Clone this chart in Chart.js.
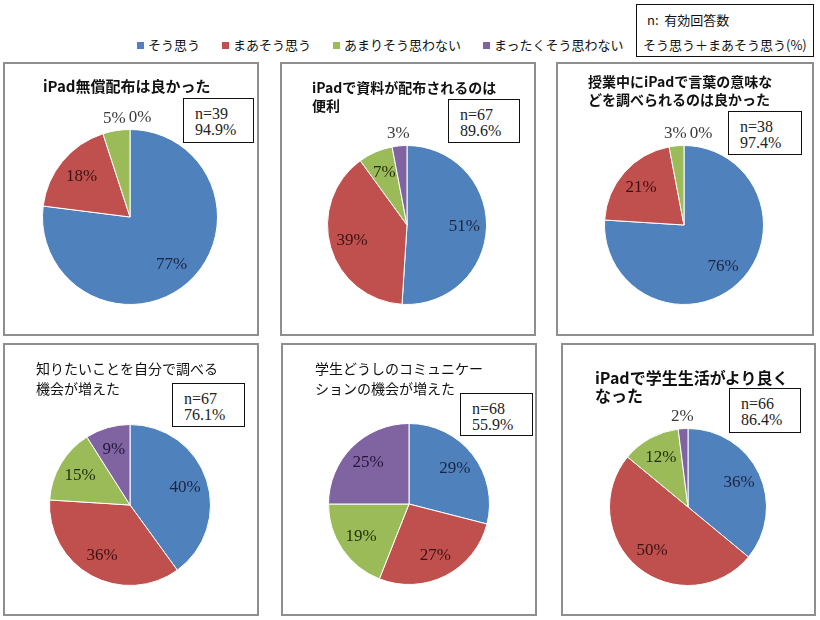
<!DOCTYPE html>
<html>
<head>
<meta charset="utf-8">
<script src="https://cdn.jsdelivr.net/npm/chart.js@4.4.0/dist/chart.umd.min.js"></script>
<style>
    body {
        margin: 0;
        width: 820px;
        height: 620px;
        background: #fff;
        position: relative;
        overflow: hidden;
        font-family: "Noto Sans CJK JP", sans-serif;
    }
    .panel {
        position: absolute;
        border: 2px solid #8e8e8e;
        box-sizing: border-box;
    }
    .chart-holder {
        position: absolute;
    }
    .title {
        position: absolute;
        white-space: pre;
        color: #111;
    }
    .nbox {
        position: absolute;
        box-sizing: border-box;
        border: 1px solid #111;
        background: #fff;
        font-family: "Liberation Serif", serif;
        font-size: 16px;
        line-height: 16px;
        padding: 7px 0 0 11px;
        color: #222;
    }
    #legend {
        position: absolute;
        left: 137px;
        top: 36px;
        display: flex;
        gap: 22px;
        font-size: 13px;
        line-height: 18px;
        color: #111;
    }
    #legend span.sw {
        display: inline-block;
        width: 7px;
        height: 7px;
        margin-right: 4px;
        vertical-align: 1px;
    }
    #note {
        position: absolute;
        left: 636px;
        top: 4px;
        width: 178px;
        height: 53px;
        box-sizing: border-box;
        border: 1px solid #111;
        font-size: 13px;
        color: #111;
    }
</style>
</head>
<body>
<div id="legend"></div>
<div id="note">
    <div style="position:absolute;left:10px;top:5px">n:&nbsp; 有効回答数</div>
    <div style="position:absolute;left:6px;top:30px">そう思う＋まあそう思う(%)</div>
</div>

<script>
const categories = ["そう思う", "まあそう思う", "あまりそう思わない", "まったくそう思わない"];
const colors = ["#4F81BD", "#C0504D", "#9BBB59", "#8064A2"];
const labelColors = ["#1b2440", "#3b1111", "#1f2b0f", "#24163a"];

const titles = [
    "iPad無償配布は良かった",
    "iPadで資料が配布されるのは\n便利",
    "授業中にiPadで言葉の意味な\nどを調べられるのは良かった",
    "知りたいことを自分で調べる\n機会が増えた",
    "学生どうしのコミュニケー\nションの機会が増えた",
    "iPadで学生生活がより良く\nなった",
];
const nValues = [39, 67, 38, 67, 68, 66];
const agreeRates = ["94.9", "89.6", "97.4", "76.1", "55.9", "86.4"];

const freeDistribution = [77, 18, 5, 0];
const materialsHandout = [51, 39, 7, 3];
const lookupInClass = [76, 21, 3, 0];
const selfStudy = [40, 36, 15, 9];
const communication = [29, 27, 19, 25];
const studentLife = [36, 50, 12, 2];
const allSeries = [freeDistribution, materialsHandout, lookupInClass, selfStudy, communication, studentLife];

// 見た目の配置 (パネル枠, 円の中心と半径, タイトル, n の枠)
const layout = [
    { box: [3, 62, 256, 274], pie: [130, 217, 88], title: [43, 77, 15, 18, "bold"], nbox: [183, 98, 71, 45] },
    { box: [280, 62, 256, 274], pie: [407, 225, 80], title: [312, 78, 14, 18, "bold"], nbox: [448, 99, 72, 44] },
    { box: [556, 62, 258, 274], pie: [684, 225, 80], title: [588, 72, 14, 18, "bold"], nbox: [728, 111, 74, 44] },
    { box: [3, 343, 256, 273], pie: [130, 505, 81], title: [36, 358, 14, 20, "normal"], nbox: [172, 383, 73, 44] },
    { box: [281, 343, 256, 273], pie: [409, 504, 81], title: [315, 358, 14, 20, "normal"], nbox: [460, 393, 73, 43] },
    { box: [561, 343, 255, 273], pie: [688, 507, 79], title: [595, 368, 16, 18, "bold"], nbox: [729, 388, 72, 45] },
];

const legend = document.getElementById("legend");
categories.forEach((name, i) => {
    const item = document.createElement("div");
    item.innerHTML = `<span class="sw" style="background:${colors[i]}"></span>${name}`;
    legend.appendChild(item);
});

// 小さい割合は円の外側に、それ以外は内側にラベルを描く
const sliceLabels = {
    id: "sliceLabels",
    afterDatasetsDraw(chart) {
        const { ctx } = chart;
        const meta = chart.getDatasetMeta(0);
        const values = chart.data.datasets[0].data;
        ctx.save();
        ctx.font = '17px "Liberation Serif", serif';
        ctx.textAlign = "center";
        ctx.textBaseline = "middle";
        let lastRight = -Infinity;
        meta.data.forEach((arc, i) => {
            const { x, y, startAngle, endAngle, outerRadius } = arc.getProps(
                ["x", "y", "startAngle", "endAngle", "outerRadius"],
                true
            );
            const mid = (startAngle + endAngle) / 2;
            const text = values[i] + "%";
            const w = ctx.measureText(text).width;
            let lx, ly;
            if (values[i] > 5) {
                lx = x + Math.cos(mid) * outerRadius * 0.72;
                ly = y + Math.sin(mid) * outerRadius * 0.72;
                ctx.fillStyle = labelColors[i];
            } else {
                lx = x + Math.cos(mid) * (outerRadius + 12);
                ly = y + Math.sin(mid) * (outerRadius + 12);
                if (lx - w / 2 < lastRight + 3) {
                    lx = lastRight + 3 + w / 2;
                }
                lastRight = lx + w / 2;
                ctx.fillStyle = "#3a3a3a";
            }
            ctx.fillText(text, lx, ly);
        });
        ctx.restore();
    },
};

allSeries.forEach((series, k) => {
    const lay = layout[k];
    const [px, py, pw, ph] = lay.box;
    const [cx, cy, r] = lay.pie;

    const panel = document.createElement("div");
    panel.className = "panel";
    panel.style.cssText = `left:${px}px;top:${py}px;width:${pw}px;height:${ph}px`;
    document.body.appendChild(panel);

    const holder = document.createElement("div");
    holder.className = "chart-holder";
    holder.style.cssText = `left:${px}px;top:${py}px;width:${pw}px;height:${ph}px`;
    const canvas = document.createElement("canvas");
    canvas.width = pw;
    canvas.height = ph;
    holder.appendChild(canvas);
    document.body.appendChild(holder);

    const [tx, ty, fs, lh, fw] = lay.title;
    const title = document.createElement("div");
    title.className = "title";
    title.style.cssText = `left:${tx}px;top:${ty}px;font-size:${fs}px;line-height:${lh}px;font-weight:${fw}`;
    title.textContent = titles[k];
    document.body.appendChild(title);

    const [bx, by, bw, bh] = lay.nbox;
    const nbox = document.createElement("div");
    nbox.className = "nbox";
    nbox.style.cssText = `left:${bx}px;top:${by}px;width:${bw}px;height:${bh}px`;
    nbox.innerHTML = `n=${nValues[k]}<br>${agreeRates[k]}%`;
    document.body.appendChild(nbox);

    new Chart(canvas, {
        type: "pie",
        data: {
            labels: categories,
            datasets: [
                {
                    data: series,
                    backgroundColor: colors,
                    borderColor: "#ffffff",
                    borderWidth: 1,
                },
            ],
        },
        options: {
            responsive: false,
            animation: false,
            layout: {
                padding: {
                    left: cx - r - px,
                    top: cy - r - py,
                    right: px + pw - (cx + r),
                    bottom: py + ph - (cy + r),
                },
            },
            plugins: {
                legend: { display: false },
                tooltip: { enabled: false },
            },
        },
        plugins: [sliceLabels],
    });
});
</script>
</body>
</html>
